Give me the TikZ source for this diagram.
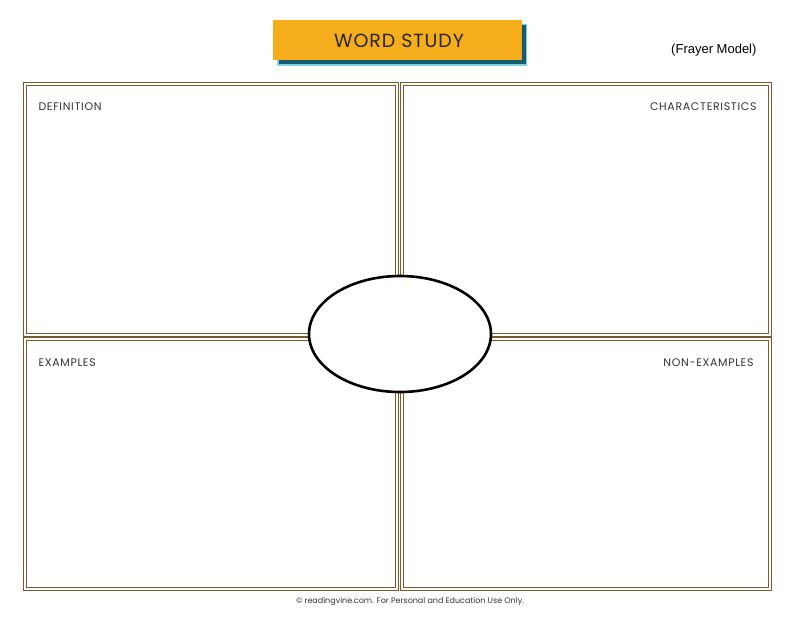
\documentclass[tikz,border=0pt]{standalone}
\usepackage{fontspec}
\setmainfont{Liberation Sans}
\newfontfamily\lab{Poppins}
\definecolor{brn}{HTML}{7A5A28}
\definecolor{gold}{HTML}{F5AD1B}
\definecolor{teal}{HTML}{155C72}
\definecolor{lteal}{HTML}{7FD3E0}
\begin{document}
\begin{tikzpicture}[x=1pt,y=-1pt,
  quad/.style={draw=brn,double=white,double distance=2.2pt,line width=0.9pt},
  lbl/.style={font=\lab\fontsize{11}{13}\selectfont\addfontfeature{LetterSpace=6},text=black!80}]
\useasboundingbox (0,0) rectangle (800,618);
\draw[quad] (25,84) rectangle (397,335);
\draw[quad] (402,84) rectangle (770,335);
\draw[quad] (25,339) rectangle (397,589);
\draw[quad] (402,339) rectangle (770,589);
\node[lbl,anchor=west] (d) at (35,107) {DEFINITION};
\node[lbl,anchor=east] (c) at (760,107) {CHARACTERISTICS};
\node[lbl,anchor=west] (e) at (35,363) {EXAMPLES};
\node[lbl,anchor=east] (n) at (757,363) {NON-EXAMPLES};
\draw[line width=2.6pt,fill=white] (400,334) ellipse [x radius=91, y radius=58];
\fill[lteal] (277,24) rectangle (527,66);
\fill[teal] (278.5,25.5) rectangle (525.5,64.5);
\fill[gold] (273,20) rectangle (522,60);
\node[font=\lab\fontsize{19}{21}\selectfont\addfontfeature{LetterSpace=5},text=black!85] (t) at (399,41) {WORD STUDY};
\node[font=\fontsize{13}{15}\selectfont,anchor=east] (f) at (760,50) {(Frayer Model)};
\node[font=\lab\fontsize{8}{10}\selectfont,text=black!80] (cp) at (410,602) {© readingvine.com. For Personal and Education Use Only.};
\end{tikzpicture}
\end{document}
